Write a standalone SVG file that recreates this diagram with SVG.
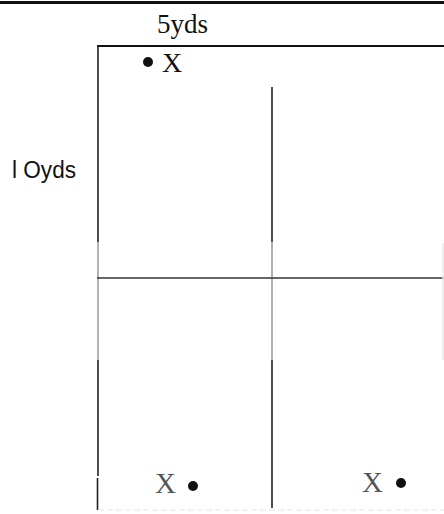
<svg xmlns="http://www.w3.org/2000/svg" width="444" height="514" viewBox="0 0 444 514">
<style>
.ln{stroke:#222;stroke-width:1.6;fill:none}
.gl{stroke:#aaa;stroke-width:1.8;fill:none}
.serif{font-family:"Liberation Serif","DejaVu Serif",serif;fill:#111}
.sans{font-family:"Liberation Sans","DejaVu Sans",sans-serif;fill:#111}
.gx{font-family:"Liberation Serif","DejaVu Serif",serif;fill:#555}
</style>
<rect width="444" height="514" fill="#fff"/>
<g id="frame">
<line x1="0" y1="2.5" x2="444" y2="2.5" stroke="#111" stroke-width="3"/>
<line x1="97" y1="46" x2="444" y2="46" stroke="#111" stroke-width="2"/>
<line class="ln" x1="98" y1="45" x2="98" y2="242"/>
<line class="gl" x1="98" y1="242" x2="98" y2="360" stroke="#bbb"/>
<line class="ln" x1="98" y1="360" x2="98" y2="476"/>
<line class="ln" x1="97.5" y1="478" x2="97.5" y2="510"/>
<line class="ln" x1="272" y1="87" x2="272" y2="242"/>
<line class="gl" x1="272" y1="242" x2="272" y2="360" stroke="#999"/>
<line class="ln" x1="272" y1="360" x2="272" y2="508"/>
<line x1="97" y1="278" x2="444" y2="278" stroke="#333" stroke-width="1.6"/>
<line x1="443" y1="243" x2="443" y2="360" stroke="#e8e8e8" stroke-width="1.5"/>
<line x1="98" y1="510" x2="444" y2="510" stroke="#e4e4e4" stroke-width="1" stroke-dasharray="6,3"/>
</g>
<g id="labels">
<text class="serif" x="157" y="33" font-size="27">5yds</text>
<text class="sans" x="12" y="178" font-size="23" textLength="64" lengthAdjust="spacingAndGlyphs">l Oyds</text>
</g>
<g id="marker-top">
<circle cx="148" cy="62" r="5" fill="#111"/>
<text class="serif" x="162" y="72" font-size="28">X</text>
</g>
<g id="marker-bottom-left">
<text class="gx" x="155" y="493" font-size="29">X</text>
<circle cx="193" cy="486" r="5" fill="#111"/>
</g>
<g id="marker-bottom-right">
<text class="gx" x="362" y="492" font-size="29">X</text>
<circle cx="401" cy="483" r="5" fill="#111"/>
</g>
</svg>
